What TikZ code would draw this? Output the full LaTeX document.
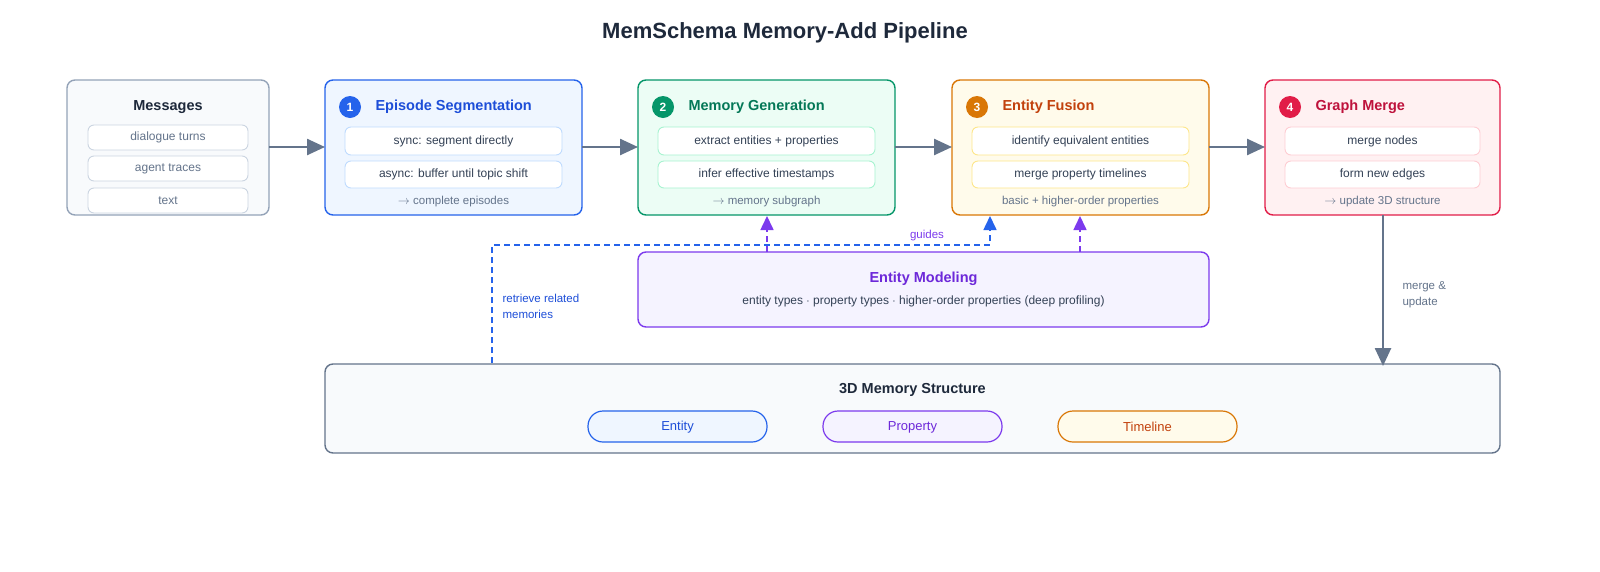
\documentclass[tikz,border=0pt]{standalone}
\usepackage{fontspec}
\setmainfont{Liberation Sans}
\usetikzlibrary{arrows.meta}
\definecolor{slate}{HTML}{64748B}
\definecolor{dark}{HTML}{1E293B}
\definecolor{txt}{HTML}{334155}
\definecolor{bA}{HTML}{2563EB}\definecolor{fA}{HTML}{EFF6FF}\definecolor{pA}{HTML}{BFDBFE}
\definecolor{bB}{HTML}{059669}\definecolor{fB}{HTML}{ECFDF5}\definecolor{pB}{HTML}{A7F3D0}\definecolor{tB}{HTML}{047857}
\definecolor{bC}{HTML}{D97706}\definecolor{fC}{HTML}{FFFBEB}\definecolor{pC}{HTML}{FDE68A}\definecolor{tC}{HTML}{C2410C}
\definecolor{bD}{HTML}{E11D48}\definecolor{fD}{HTML}{FFF1F2}\definecolor{pD}{HTML}{FECDD3}\definecolor{tD}{HTML}{BE123C}
\definecolor{bP}{HTML}{7C3AED}\definecolor{fP}{HTML}{F5F3FF}\definecolor{tP}{HTML}{6D28D9}
\definecolor{tA}{HTML}{1D4ED8}
\definecolor{gB}{HTML}{94A3B8}\definecolor{gF}{HTML}{F8FAFC}\definecolor{gP}{HTML}{CBD5E1}
\begin{document}
\begin{tikzpicture}[x=1pt,y=-1pt,
 panel/.style={draw=#1,line width=1.4pt,rounded corners=8pt},
 pill/.style={draw=#1,fill=white,line width=0.9pt,rounded corners=6pt},
 ttl/.style={font=\fontsize{14.5}{16}\selectfont\bfseries},
 sm/.style={font=\fontsize{12}{14}\selectfont,text=txt},
 ft/.style={font=\fontsize{11.5}{13}\selectfont,text=slate},
 flow/.style={draw=slate,line width=2.5pt,-{Triangle[length=18pt,width=16pt]}},
 dsh/.style={line width=1.6pt,dash pattern=on 6pt off 4pt},
 num/.style={circle,fill=#1,text=white,inner sep=0pt,minimum size=22pt,font=\fontsize{12}{14}\selectfont\bfseries}]
\useasboundingbox[fill=white] (0,0) rectangle (1600,571);
\node[font=\fontsize{22}{26}\selectfont\bfseries,text=dark] (title) at (785,33) {MemSchema Memory-Add Pipeline};
% Messages
\path[panel=gB,fill=gF] (67,80) rectangle (269,215);
\node[ttl,text=dark] (msgt) at (168,107) {Messages};
\foreach \y/\t [count=\i] in {137.5/dialogue turns,168.5/agent traces,200.5/text / files / URLs}{
 \path[pill=gP] (88,\y-12.5) rectangle (248,\y+12.5);
 \node[sm,text=slate] (m\i) at (168,\y) {\t};}
\coordinate (msgR) at (269,147);
% generic stage macro
\newcommand\stage[9]{% x1,x2,border,fill,pillc,titlecol,num,title,footer
 \path[panel=#3,fill=#4] (#1,80) rectangle (#2,215);
 \node[num=#3] at (#1+25,107) {#7};
 \node[ttl,text=#6,anchor=west] at (#1+47,107) {#8};
 \node[ft] at ({(#1+#2)/2},202) {#9};}
\stage{325}{582}{bA}{fA}{pA}{tA}{1}{Episode Segmentation}{$\rightarrow$ complete episodes}
\path[pill=pA] (345,127) rectangle (562,155); \node[sm] (s1a) at (453.5,141) {sync: segment directly};
\path[pill=pA] (345,161) rectangle (562,188); \node[sm] (s1b) at (453.5,174.5) {async: buffer until topic shift};
\stage{638}{895}{bB}{fB}{pB}{tB}{2}{Memory Generation}{$\rightarrow$ memory subgraph}
\path[pill=pB] (658,127) rectangle (875,155); \node[sm] (s2a) at (766.5,141) {extract entities + properties};
\path[pill=pB] (658,161) rectangle (875,188); \node[sm] (s2b) at (766.5,174.5) {infer effective timestamps};
\stage{952}{1209}{bC}{fC}{pC}{tC}{3}{Entity Fusion}{basic + higher-order properties}
\path[pill=pC] (972,127) rectangle (1189,155); \node[sm] (s3a) at (1080.5,141) {identify equivalent entities};
\path[pill=pC] (972,161) rectangle (1189,188); \node[sm] (s3b) at (1080.5,174.5) {merge property timelines};
\stage{1265}{1500}{bD}{fD}{pD}{tD}{4}{Graph Merge}{$\rightarrow$ update 3D structure}
\path[pill=pD] (1285,127) rectangle (1480,155); \node[sm] (s4a) at (1382.5,141) {merge nodes};
\path[pill=pD] (1285,161) rectangle (1480,188); \node[sm] (s4b) at (1382.5,174.5) {form new edges};
\coordinate (a1) at (325,147);\coordinate (b1) at (582,147);\coordinate (a2) at (638,147);
\coordinate (b2) at (895,147);\coordinate (a3) at (952,147);\coordinate (b3) at (1209,147);\coordinate (a4) at (1265,147);
\draw[flow] (msgR) -- (a1);
\draw[flow] (b1) -- (a2);
\draw[flow] (b2) -- (a3);
\draw[flow] (b3) -- (a4);
% Entity modeling
\path[panel=bP,fill=fP] (638,252) rectangle (1209,327);
\node[ttl,text=tP] (emt) at (923.5,279) {Entity Modeling};
\node[sm] (ems) at (923.5,301) {entity types $\cdot$ property types $\cdot$ higher-order properties (deep profiling)};
\coordinate (e1) at (767,252);\coordinate (t1) at (767,216);
\coordinate (e2) at (1080,252);\coordinate (t2) at (1080,216);
\draw[dsh,draw=bP,-{Triangle[length=14pt,width=13pt]}] (e1) -- (t1);
\draw[dsh,draw=bP,-{Triangle[length=14pt,width=13pt]}] (e2) -- (t2);
% 3D memory
\path[panel=slate,fill=gF] (325,364) rectangle (1500,453);
\node[ttl,text=dark] (mst) at (912.5,390) {3D Memory Structure};
\foreach \x/\t/\b/\f/\c in {677.5/Entity/bA/fA/tA,912.5/Property/bP/fP/tP,1147.5/Timeline/bC/fC/tC}{
 \path[draw=\b,fill=\f,line width=1.2pt,rounded corners=15pt] (\x-89.5,411) rectangle (\x+89.5,442);
 \node[font=\fontsize{13}{15}\selectfont,text=\c] at (\x,427) {\t};}
% retrieve
\coordinate (r0) at (492,363);\coordinate (r1) at (492,245);\coordinate (r2) at (990,245);\coordinate (r3) at (990,216);
\draw[dsh,draw=bA,-{Triangle[length=14pt,width=13pt]}] (r0) -- (r1) -- (r2) -- (r3);
\node[font=\fontsize{11.5}{13}\selectfont,text=bP] (gd) at (927,236) {guides};
\node[font=\fontsize{11.5}{16}\selectfont,text=tA,anchor=west,align=left] (rl) at (499,306) {retrieve related\\memories};
% merge
\coordinate (g0) at (1383,215);\coordinate (g1) at (1383,366);
\draw[flow] (g0) -- (g1);
\node[font=\fontsize{11.5}{16}\selectfont,text=slate,anchor=west,align=left] (ml) at (1399,295) {merge \&\\update};
\end{tikzpicture}
\end{document}
